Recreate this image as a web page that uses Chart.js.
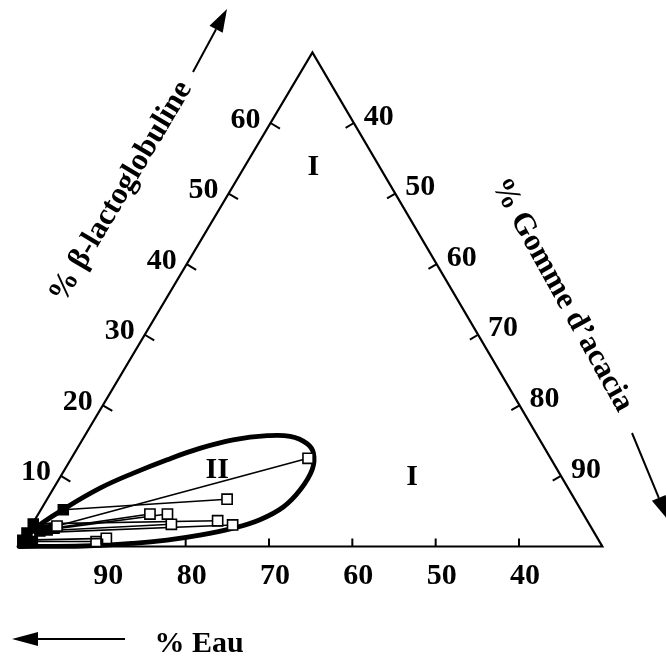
<!DOCTYPE html>
<html><head><meta charset="utf-8">
<script src="https://cdn.jsdelivr.net/npm/chart.js@4.4.0/dist/chart.umd.min.js"></script>
<style>html,body{margin:0;padding:0;background:#fff;}#wrap{width:666px;height:657px;position:relative;}</style>
</head><body><div id="wrap"><canvas id="c"></canvas></div>
<script>
// Compositions in % (water = 100 - beta - gum)
const binodalBeta = [0, 2.3, 5.4, 8.3, 10.4, 12.3, 13.9, 15.1, 15.7, 15.6, 14.6, 13.2, 10.9, 8.0, 5.6, 3.8, 2.6, 1.6, 0.9, 0.45, 0.07, 0];
const binodalGum  = [0, 0.5, 2.8, 5.6, 8.5, 11.6, 14.7, 18.1, 21.9, 24.7, 27.2, 28.7, 29.7, 29.7, 28.9, 27.0, 24.4, 20.9, 17.3, 13.5, 7.7, 0];
// tie lines: dilute (left) end and rich (open) end
const diluteBeta = [2.9, 5.2, 2.6, 2.35, 2.2, 3.2, 1.9, 0.9, 0.7];
const diluteGum  = [3.1, 2.7, 2.9, 2.2, 1.4, 0.1, 0.0, 0.0, 1.25];
const richBeta   = [12.5, 6.7, 4.6, 4.6, 3.15, 3.65, 3.05, 1.15, 0.7];
const richGum    = [28.4, 21.6, 13.4, 15.5, 16.7, 22.0, 24.1, 9.9, 8.9];
// axis ticks
const waterTicks = [90, 80, 70, 60, 50, 40];
const betaTicks  = [10, 20, 30, 40, 50, 60];
const gumTicks   = [40, 50, 60, 70, 80, 90];
const waterMin = 30; // water content along right edge
// region labels [text, beta, gum]
const regionText = ['I', 'II', 'I'];
const regionBeta = [52.7, 9.7, 8.7];
const regionGum  = [8.8, 18.9, 42.8];

const KX = 0.503, KY = 0.847;
function tern(b, g) { return { x: g + b * KX, y: b * KY }; }

const span = 100 - waterMin;
const datasets = [];
for (let i = 0; i < diluteBeta.length; i++) {
  datasets.push({
    data: [tern(diluteBeta[i], diluteGum[i]), tern(richBeta[i], richGum[i])],
    showLine: true, borderColor: '#000', borderWidth: 1.6, tension: 0,
    pointStyle: 'rect',
    pointRadius: [i === 0 ? 7.2 : 7, 7.2],
    pointBackgroundColor: [i === 0 ? '#fff' : '#000', '#fff'],
    pointBorderColor: '#000', pointBorderWidth: [1.6, 1.6]
  });
}
datasets.push({
  data: binodalBeta.map((b, i) => tern(b, binodalGum[i])),
  showLine: true, borderColor: '#000', borderWidth: 4.8, tension: 0.4,
  pointRadius: 0, fill: false
});
datasets.push({
  data: [tern(0, 0), tern(0, span), tern(span, 0), tern(0, 0)],
  showLine: true, borderColor: '#000', borderWidth: 2.2, tension: 0,
  pointRadius: 0, borderJoinStyle: 'miter'
});

const FONT = "bold 30px 'Liberation Serif', 'Times New Roman', serif";
const TITLE_FONT = "bold 31px 'Liberation Serif', 'Times New Roman', serif";

function arrow(ctx, x1, y1, x2, y2, headLen, headHalf) {
  const dx = x2 - x1, dy = y2 - y1, L = Math.hypot(dx, dy);
  const ux = dx / L, uy = dy / L;
  const bx = x2 - ux * headLen, by = y2 - uy * headLen;
  ctx.beginPath(); ctx.moveTo(x1, y1); ctx.lineTo(bx, by); ctx.stroke();
  ctx.beginPath();
  ctx.moveTo(x2, y2);
  ctx.lineTo(bx - uy * headHalf, by + ux * headHalf);
  ctx.lineTo(bx + uy * headHalf, by - ux * headHalf);
  ctx.closePath(); ctx.fill();
}

const decor = {
  id: 'decor',
  afterDatasetsDraw(chart) {
    const { ctx, scales: { x, y } } = chart;
    const P = (b, g) => { const c = tern(b, g); return [x.getPixelForValue(c.x), y.getPixelForValue(c.y)]; };
    const L = P(0, 0), R = P(0, span), T = P(span, 0);
    const norm = (a, b) => { const dx = b[0] - a[0], dy = b[1] - a[1], l = Math.hypot(dx, dy); return [dx / l, dy / l]; };
    const vL = norm(L, T), vR = norm(T, R);
    const nL = [-vL[1], vL[0]], nR = [-vR[1], vR[0]];
    ctx.save();
    ctx.strokeStyle = '#000'; ctx.fillStyle = '#000'; ctx.lineWidth = 2;
    ctx.font = FONT; ctx.textAlign = 'center'; ctx.textBaseline = 'alphabetic';
    // bottom: water
    waterTicks.forEach(w => {
      const p = P(0, 100 - w);
      ctx.beginPath(); ctx.moveTo(p[0], p[1]); ctx.lineTo(p[0], p[1] - 8); ctx.stroke();
      ctx.fillText(String(w), p[0] + 6, p[1] + 37);
    });
    // left: beta
    betaTicks.forEach(b => {
      const p = P(b, 0);
      ctx.beginPath(); ctx.moveTo(p[0], p[1]); ctx.lineTo(p[0] + nL[0] * 11, p[1] + nL[1] * 11); ctx.stroke();
      ctx.fillText(String(b), p[0] - 25, p[1] + 4.5);
    });
    // right: gum
    gumTicks.forEach(g => {
      const p = P(100 - g, g - waterMin);
      ctx.beginPath(); ctx.moveTo(p[0], p[1]); ctx.lineTo(p[0] + nR[0] * 9.5, p[1] + nR[1] * 9.5); ctx.stroke();
      ctx.fillText(String(g), p[0] + 25, p[1] + 1.7);
    });
    // region labels
    regionText.forEach((t, i) => {
      const p = P(regionBeta[i], regionGum[i]);
      ctx.fillText(t, p[0], p[1]);
    });
    // water title
    ctx.fillText('% Eau', 199, 652);
    arrow(ctx, 125, 639, 12, 639, 26, 7);
    // beta title
    ctx.font = TITLE_FONT;
    ctx.textBaseline = 'middle';
    const aL = Math.atan2(vL[1], vL[0]);
    ctx.save(); ctx.translate(121, 192); ctx.rotate(aL);
    ctx.fillText('% \u03B2-lactoglobuline', 0, 0); ctx.restore();
    arrow(ctx, 193, 72, 227, 9, 23, 7.5);
    // gum title
    const aR = 61 * Math.PI / 180;
    ctx.save(); ctx.translate(562, 295); ctx.rotate(aR);
    ctx.fillText('% Gomme d\u2019acacia', 0, 0); ctx.restore();
    arrow(ctx, 632, 433, 668, 520, 24, 7.5);
    ctx.restore();
  }
};

new Chart(document.getElementById('c'), {
  type: 'scatter',
  data: { datasets },
  options: {
    responsive: true, maintainAspectRatio: false, animation: false,
    devicePixelRatio: 1,
    layout: { padding: 0, autoPadding: false },
    plugins: { legend: { display: false }, tooltip: { enabled: false }, title: { display: false } },
    scales: {
      x: { type: 'linear', display: false, min: -2.28, max: 77.64 },
      y: { type: 'linear', display: false, min: -13.26, max: 65.58 }
    },
    elements: { line: { borderCapStyle: 'round', borderJoinStyle: 'round' } }
  },
  plugins: [decor]
});
</script></body></html>
